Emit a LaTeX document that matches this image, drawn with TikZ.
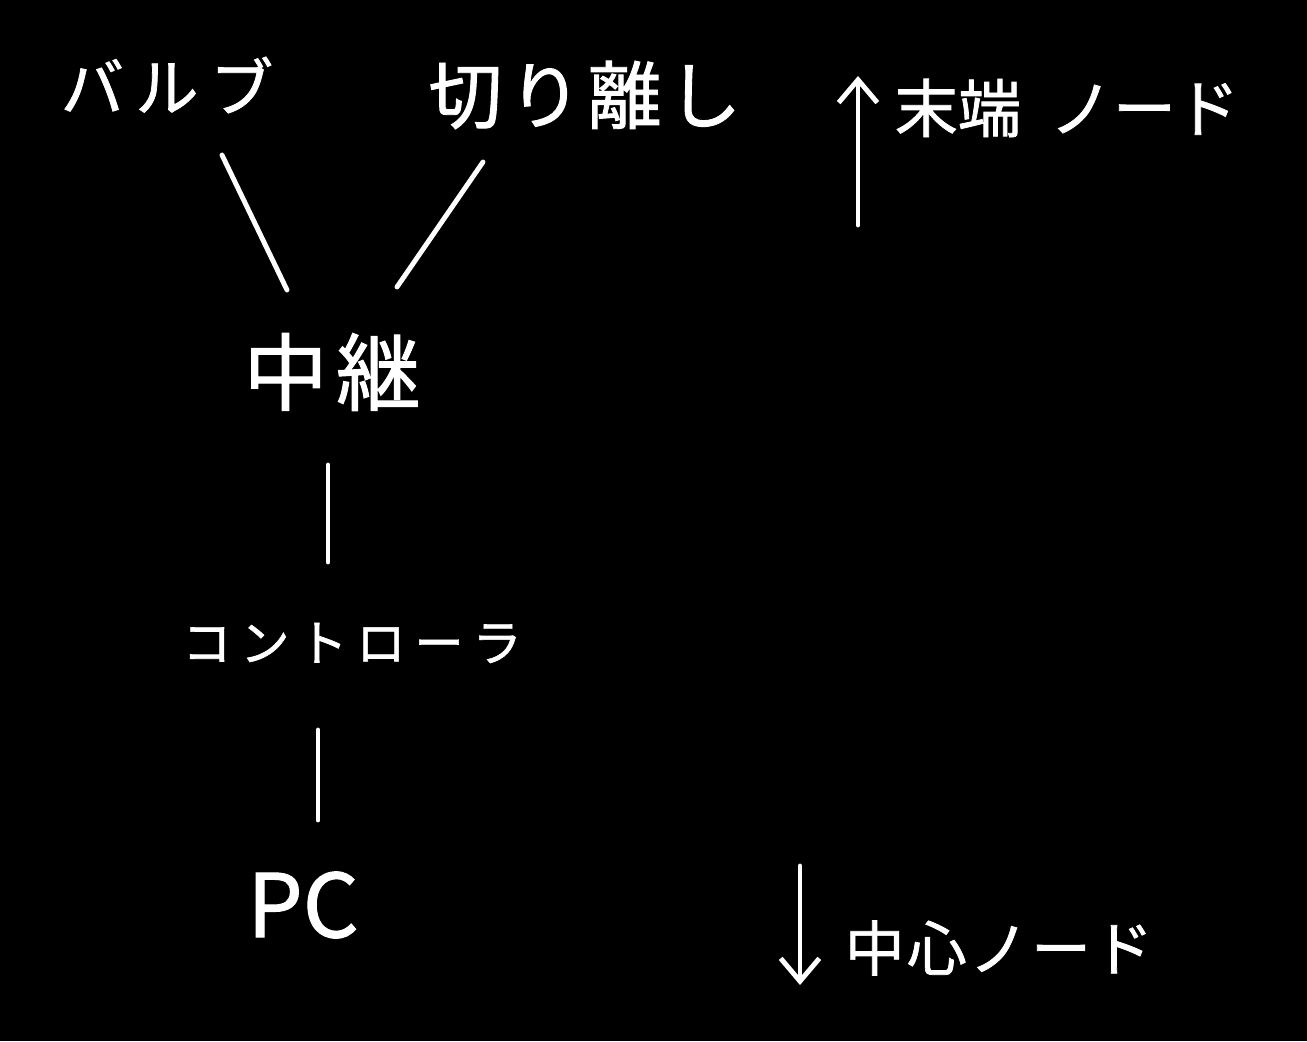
\documentclass[tikz,border=0pt]{standalone}
\usepackage{fontspec}
\setmainfont{Noto Sans CJK JP}[FakeBold=1.2]
\usetikzlibrary{arrows.meta}
\begin{document}
\begin{tikzpicture}[x=0.02cm,y=-0.02cm,
  lbl/.style={text=white, inner sep=0pt},
  conn/.style={draw=white, line width=2.8pt, line cap=round},
  pointer/.style={conn, -{Straight Barb[length=13pt,width=22pt,line width=2.8pt]}}]
\fill[black] (0,0) rectangle (1307,1041);
\useasboundingbox (0,0) rectangle (1307,1041);
\node[lbl, font=\fontsize{36}{40}\selectfont\addfontfeatures{LetterSpace=18}] (valve) at (167,85) {バルブ};
\node[lbl, font=\fontsize{42}{46}\selectfont\addfontfeatures{LetterSpace=8}] (cut) at (585,95) {切り離し};
\node[lbl, font=\fontsize{36}{40}\selectfont] (leaf) at (1067,108) {末端\hspace{0.45em}ノード};
\node[lbl, font=\fontsize{48}{52}\selectfont\addfontfeatures{LetterSpace=10}] (relay) at (332,372) {中継};
\node[lbl, font=\fontsize{28}{30}\selectfont\addfontfeatures{LetterSpace=18}] (ctrl) at (352,643) {コントローラ};
\node[lbl, font=\fontsize{50}{54}\selectfont] (pc) at (303,905) {PC};
\node[lbl, font=\fontsize{34}{38}\selectfont\addfontfeatures{LetterSpace=4}] (hub) at (999,948) {中心ノード};
\draw[conn] ([shift={(55,70)}]valve.center) -- ([shift={(-45,-82)}]relay.center);
\draw[conn] ([shift={(-102,67)}]cut.center) -- ([shift={(65,-85)}]relay.center);
\draw[conn] ([shift={(-4,93)}]relay.center) -- ([shift={(-24,-81)}]ctrl.center);
\draw[conn] ([shift={(-34,87)}]ctrl.center) -- ([shift={(15,-85)}]pc.center);
\coordinate (upfrom) at (858,225);
\coordinate (upto) at (858,76);
\draw[pointer] (upfrom) -- (upto);
\coordinate (downfrom) at (800,866);
\coordinate (downto) at (800,985);
\draw[pointer] (downfrom) -- (downto);
\end{tikzpicture}
\end{document}
